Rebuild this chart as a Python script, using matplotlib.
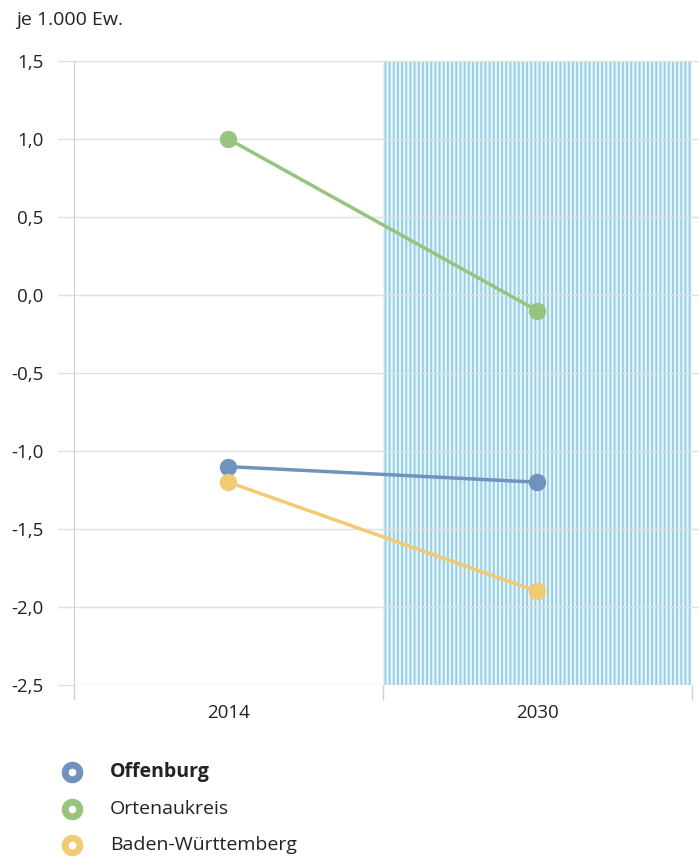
import matplotlib
matplotlib.use("Agg")
import matplotlib.pyplot as plt

plt.rcParams['font.family'] = ['Open Sans', 'DejaVu Sans']
plt.rcParams['hatch.linewidth'] = 1.3
plt.rcParams['hatch.color'] = '#93cde2'

years = ['2014', '2030']
series_names = ['Offenburg', 'Ortenaukreis', 'Baden-Württemberg']
offenburg = [-1.1, -1.2]
ortenaukreis = [1.0, -0.1]
bw = [-1.2, -1.9]
colors = ['#7093bd', '#97c47f', '#f0cb72']
y_ticks = [1.5, 1.0, 0.5, 0.0, -0.5, -1.0, -1.5, -2.0, -2.5]
y_labels = ['1,5', '1,0', '0,5', '0,0', '-0,5', '-1,0', '-1,5', '-2,0', '-2,5']
unit_label = 'je 1.000 Ew.'

W, H = 699, 858
fig = plt.figure(figsize=(W / 100, H / 100), dpi=100)
ax = fig.add_axes([74 / W, 1 - 685 / H, (699 - 74) / W, (685 - 61) / H])

xs = list(range(len(years)))
ax.set_xlim(-0.498, 1.524)
ax.set_ylim(-2.5, 1.5)

# projection band
ax.axvspan(0.5, 1.5, facecolor='#e6f4f9', edgecolor='#93cde2', hatch='||||', linewidth=0, zorder=0)

for vals, c in zip([offenburg, ortenaukreis, bw], colors):
    ax.plot(xs, vals, color=c, lw=2.5, marker='o', ms=11.5, zorder=3, solid_capstyle='round')

ax.set_yticks(y_ticks)
ax.set_yticklabels(y_labels)
ax.grid(axis='y', color='#e0e0e0', lw=1)
ax.set_axisbelow(True)
ax.set_xticks(xs)
ax.set_xticklabels(years)
ax.set_xticks([-0.5, 0.5, 1.5], minor=True)
ax.tick_params(axis='x', which='major', length=0, labelsize=13.5, pad=14, colors='#222222')
ax.tick_params(axis='x', which='minor', length=11, color='#d0d0d0', width=1)
ax.tick_params(axis='y', length=11.5, width=1, labelsize=13.5, pad=10.5, colors='#222222')
ax.tick_params(axis='y', which='both', color='#e0e0e0')

for s in ['top', 'right', 'bottom']:
    ax.spines[s].set_visible(False)
ax.spines['left'].set_color('#d0d0d0')

fig.text(16 / W, 1 - 20 / H, unit_label, fontsize=14, va='center', ha='left', color='#222222')

# legend drawn in a pixel-coordinate overlay
lax = fig.add_axes([0, 0, 1, 1], facecolor='none')
lax.set_xlim(0, W)
lax.set_ylim(H, 0)
lax.axis('off')
leg_y0, leg_dy = 772, 36.5
for i, (name, c) in enumerate(zip(series_names, colors)):
    y = leg_y0 + i * leg_dy
    lax.plot([72], [y], marker='o', ms=14.5, color=c, ls='')
    lax.plot([72], [y], marker='o', ms=4.5, color='white', ls='')
    lax.text(110, y, name, fontsize=14, va='center', ha='left', color='#222222',
             fontweight='bold' if i == 0 else 'normal')

fig.savefig('out.png', dpi=100)
